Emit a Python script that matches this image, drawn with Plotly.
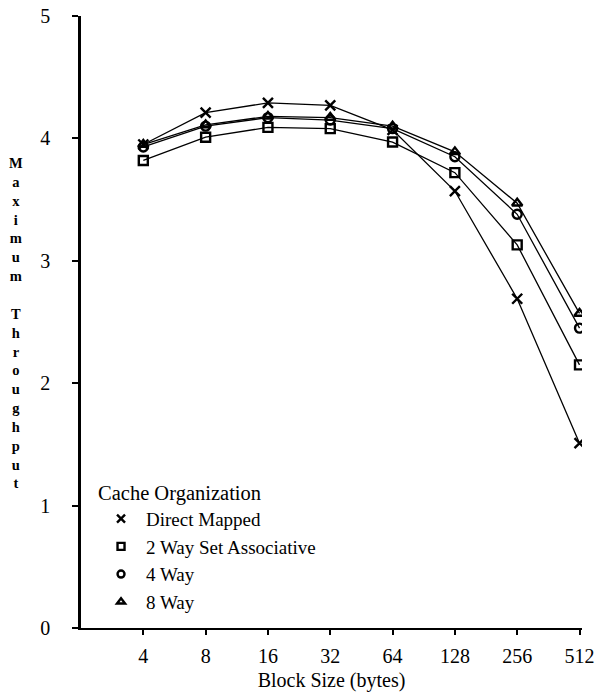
import plotly.graph_objects as go

block_sizes = ["4", "8", "16", "32", "64", "128", "256", "512"]
direct_mapped = [3.95, 4.21, 4.29, 4.27, 4.07, 3.57, 2.69, 1.51]
two_way = [3.82, 4.01, 4.09, 4.08, 3.97, 3.72, 3.13, 2.15]
four_way = [3.93, 4.10, 4.17, 4.15, 4.08, 3.85, 3.38, 2.45]
eight_way = [3.95, 4.11, 4.18, 4.17, 4.10, 3.89, 3.47, 2.57]

series_names = ["Direct Mapped", "2 Way Set Associative", "4 Way", "8 Way"]
series_values = [direct_mapped, two_way, four_way, eight_way]
symbols = ["x-thin-open", "square-open", "circle-open", "triangle-up-open"]
sizes = [10, 9, 9, 9]

FONT = "Liberation Serif"
fig = go.Figure()
for name, vals, sym, sz in zip(series_names, series_values, symbols, sizes):
    fig.add_trace(go.Scatter(
        x=block_sizes, y=vals, mode="lines+markers", showlegend=False,
        line=dict(color="black", width=1.3),
        marker=dict(symbol=sym, size=sz, color="black",
                    line=dict(color="black", width=2.4)),
    ))
for name, sym, sz in zip(series_names, symbols, sizes):
    fig.add_trace(go.Scatter(
        x=[None], y=[None], mode="markers", name=name,
        marker=dict(symbol=sym, size=sz - 2, color="black",
                    line=dict(color="black", width=2.4)),
    ))

fig.update_layout(
    width=604, height=700,
    margin=dict(l=81, r=22, t=16, b=72),
    paper_bgcolor="white", plot_bgcolor="white",
    font=dict(family=FONT, size=20, color="black"),
    showlegend=True,
    legend=dict(
        title=dict(text="Cache Organization", font=dict(family=FONT, size=20.5)),
        x=0.03, y=0.253, xanchor="left", yanchor="top",
        bgcolor="rgba(0,0,0,0)", font=dict(family=FONT, size=19),
        itemwidth=40, tracegroupgap=0,
    ),
    xaxis=dict(
        type="category", range=[-1, 7.04], automargin=False,
        showline=True, linecolor="black", linewidth=2.2,
        ticks="outside", ticklen=5, tickwidth=2, tickcolor="black",
        showgrid=False, zeroline=False,
        tickfont=dict(family=FONT, size=20),
        ticklabelstandoff=4,
        title=dict(text="Block Size (bytes)", font=dict(family=FONT, size=20), standoff=7),
    ),
    yaxis=dict(
        range=[0, 5], tickvals=[0, 1, 2, 3, 4, 5], automargin=False,
        showline=True, linecolor="black", linewidth=2.5,
        ticks="outside", ticklen=6, tickwidth=2, tickcolor="black",
        showgrid=False, zeroline=False,
        tickfont=dict(family=FONT, size=20),
        ticklabelstandoff=18,
    ),
)

ytitle = "M<br>a<br>x<br>i<br>m<br>u<br>m<br> <br>T<br>h<br>r<br>o<br>u<br>g<br>h<br>p<br>u<br>t"
fig.add_annotation(
    text="<b>" + ytitle + "</b>", xref="paper", yref="paper",
    x=-0.13, y=0.498, xanchor="center", yanchor="middle",
    showarrow=False, font=dict(family=FONT, size=14.5, color="black"),
)

fig.write_html("out.html")
